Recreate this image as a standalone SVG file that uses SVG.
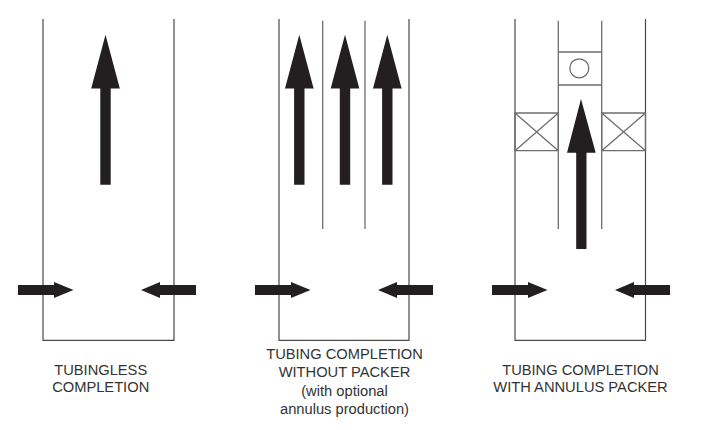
<svg xmlns="http://www.w3.org/2000/svg" width="710" height="430" viewBox="0 0 710 430">
<style>
.l{fill:none;stroke:#4a4a4a;stroke-width:1.2}
.t{fill:none;stroke:#6e6e6e;stroke-width:1.3}
.a{fill:#231f20}
text{font-family:"Liberation Sans",Arial,sans-serif;font-size:14.7px;fill:#333;text-anchor:middle}
</style>
<defs>
<polygon id="up" points="0,0 14.3,53.7 5.2,53.7 5.2,150 -5.2,150 -5.2,53.7 -14.3,53.7"/>
<polygon id="right" points="0,-5 36,-5 36,-8 55.5,0 36,8 36,5 0,5"/>
<polygon id="left" points="55,-5 19,-5 19,-8 0,0 19,8 19,5 55,5"/>
</defs>
<g id="tubingless">
<path class="l" d="M43 19V340.3H174V19"/>
<text x="100.7" y="375">TUBINGLESS</text>
<text x="100.7" y="392.3">COMPLETION</text>
</g>
<g id="without-packer">
<path class="l" d="M279 19V340.3H409V19"/>
<path class="t" d="M322.7 20.7V229M365 20.7V229"/>
<text x="344.5" y="359">TUBING COMPLETION</text>
<text x="344.5" y="377">WITHOUT PACKER</text>
<text x="344.5" y="396">(with optional</text>
<text x="344.5" y="414">annulus production)</text>
</g>
<g id="annulus-packer">
<path class="l" d="M515 19V340.3H645.5V19"/>
<path class="t" d="M558.3 20.7V229M601.7 20.7V229M558.3 52H601.7M558.3 85H601.7"/>
<circle class="t" cx="579.3" cy="68.3" r="9.5"/>
<path class="t" d="M515 113H558.3V150.7H515ZM515 113L558.3 150.7M558.3 113L515 150.7M601.7 113H645.5V150.7H601.7ZM601.7 113L645.5 150.7M645.5 113L601.7 150.7"/>
<text x="580.5" y="375">TUBING COMPLETION</text>
<text x="580.5" y="392.3">WITH ANNULUS PACKER</text>
</g>
<g id="connectors">
<use href="#up" class="a" x="105.5" y="34.7"/>
<use href="#right" class="a" x="18" y="290"/>
<use href="#left" class="a" x="141" y="290"/>
<use href="#up" class="a" x="299.3" y="34.7"/>
<use href="#up" class="a" x="345" y="34.7"/>
<use href="#up" class="a" x="387.3" y="34.7"/>
<use href="#right" class="a" x="255" y="290"/>
<use href="#left" class="a" x="378" y="290"/>
<polygon class="a" points="581,99 595.7,152.7 586.5,152.7 586.5,249 576.2,249 576.2,152.7 567,152.7"/>
<use href="#right" class="a" x="492" y="290"/>
<use href="#left" class="a" x="615" y="290"/>
</g>
</svg>
